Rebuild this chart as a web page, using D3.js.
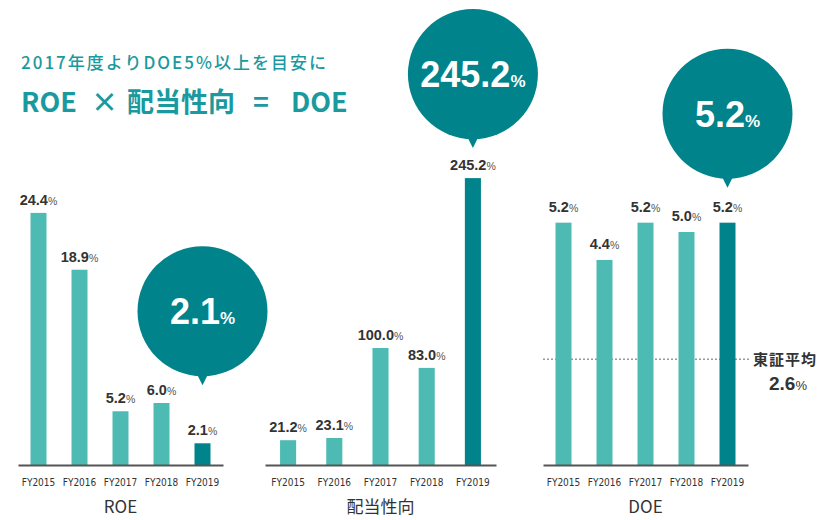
<!DOCTYPE html>
<html>
<head>
<meta charset="utf-8">
<script src="https://cdn.jsdelivr.net/npm/d3@7"></script>
<style>
  body { margin: 0; background: #fff; }
  svg { display: block; }
</style>
</head>
<body>
<div id="chart"></div>
<script>
const years = ["FY2015", "FY2016", "FY2017", "FY2018", "FY2019"];
const roeValues = [24.4, 18.9, 5.2, 6.0, 2.1];
const payoutValues = [21.2, 23.1, 100.0, 83.0, 245.2];
const doeValues = [5.2, 4.4, 5.2, 5.0, 5.2];
const panelTitles = ["ROE", "配当性向", "DOE"];
const tseAverageLabel = "2.6";
const tseLineValue = 2.27; // where the dotted line sits in the original (below its 2.6 label)

const width = 840, height = 520;
const baseY = 465;
const teal = "#1a9a9e";
const barLight = "#4dbbb3";
const barDark = "#00838b";
const textDark = "#333";

const svg = d3.select("#chart")
  .append("svg")
  .attr("width", width)
  .attr("height", height);

// header
svg.append("text")
  .attr("x", 21)
  .attr("y", 69)
  .attr("fill", teal)
  .attr("font-family", "'Noto Sans CJK JP', sans-serif")
  .attr("font-size", "17px")
  .attr("font-weight", 500)
  .attr("letter-spacing", "2px")
  .text("2017年度よりDOE5%以上を目安に");

const formula = svg.append("text")
  .attr("y", 112)
  .attr("fill", teal)
  .attr("font-family", "'Noto Sans CJK JP', sans-serif")
  .attr("font-size", "27px")
  .attr("font-weight", "bold");
[["ROE", 21], ["×", 91], ["配当性向", 127], ["=", 253], ["DOE", 291]].forEach(([t, x]) => {
  formula.append("tspan").attr("x", x).text(t);
});

const panels = [
  { values: roeValues, title: panelTitles[0], range: [18, 223], domain: [0, 25], top: 206.7, bubbleGap: 58 },
  { values: payoutValues, title: panelTitles[1], range: [265, 496], domain: [0, 250], top: 172.5, bubbleGap: 30 },
  { values: doeValues, title: panelTitles[2], range: [543, 748], domain: [0, 6], top: 185.4, bubbleGap: 35 }
];

panels.forEach((p, pi) => {
  const x = d3.scaleBand()
    .domain(years)
    .range(p.range)
    .paddingInner(0.61)
    .paddingOuter(0.305);
  if (pi === 1) x.paddingInner(0.652).paddingOuter(0.326);

  const y = d3.scaleLinear()
    .domain(p.domain)
    .range([baseY, p.top]);

  const g = svg.append("g");
  const data = years.map((yr, i) => ({ year: yr, value: p.values[i], last: i === years.length - 1 }));

  // dotted TSE average line (DOE only)
  if (pi === 2) {
    g.append("line")
      .attr("x1", p.range[0])
      .attr("x2", p.range[1] + 2)
      .attr("y1", y(tseLineValue))
      .attr("y2", y(tseLineValue))
      .attr("stroke", "#999")
      .attr("stroke-width", 1.5)
      .attr("stroke-dasharray", "2,2");
  }

  g.selectAll("rect")
    .data(data)
    .join("rect")
    .attr("x", d => x(d.year))
    .attr("y", d => y(d.value))
    .attr("width", x.bandwidth())
    .attr("height", d => baseY - y(d.value))
    .attr("fill", d => d.last ? barDark : barLight);

  // value labels
  const lbl = g.selectAll("text.val")
    .data(data)
    .join("text")
    .attr("class", "val")
    .attr("x", d => x(d.year) + x.bandwidth() / 2)
    .attr("y", d => y(d.value) - (pi === 2 ? 11 : 8))
    .attr("text-anchor", "middle")
    .attr("fill", textDark)
    .attr("font-family", "'Liberation Sans', Arial, sans-serif");
  lbl.append("tspan")
    .attr("font-size", "14.5px")
    .attr("font-weight", "bold")
    .text(d => d.value.toFixed(1));
  lbl.append("tspan")
    .attr("font-size", "10.5px")
    .attr("fill", "#555")
    .text("%");

  // axis
  const axis = g.append("g")
    .attr("transform", `translate(0,${baseY})`)
    .call(d3.axisBottom(x).tickSize(0).tickPadding(14));
  axis.select(".domain")
    .attr("stroke", "#555")
    .attr("stroke-width", 2);
  axis.selectAll(".tick text")
    .attr("fill", textDark)
    .attr("font-size", "10px")
    .attr("font-family", "'DejaVu Sans Condensed', 'Liberation Sans Narrow', 'Roboto', sans-serif");

  // panel title
  g.append("text")
    .attr("x", (p.range[0] + p.range[1]) / 2)
    .attr("y", 513)
    .attr("text-anchor", "middle")
    .attr("fill", textDark)
    .attr("font-family", "'Noto Sans CJK JP', sans-serif")
    .attr("font-size", "17px")
    .text(p.title);

  // bubble on the last bar
  const last = data[data.length - 1];
  const cx = x(last.year) + x.bandwidth() / 2;
  const tipY = y(last.value) - p.bubbleGap;
  const r = 65;
  const cy = tipY - r - 9;
  g.append("circle")
    .attr("cx", cx)
    .attr("cy", cy)
    .attr("r", r)
    .attr("fill", barDark);
  g.append("path")
    .attr("d", `M${cx - 6},${cy + r - 3} L${cx},${tipY} L${cx + 6},${cy + r - 3} Z`)
    .attr("fill", barDark);
  const big = g.append("text")
    .attr("x", cx)
    .attr("y", cy + 13)
    .attr("text-anchor", "middle")
    .attr("fill", "#fff")
    .attr("font-family", "'Liberation Sans', Arial, sans-serif")
    .attr("font-weight", "bold");
  big.append("tspan").attr("font-size", "36px").text(last.value.toFixed(1));
  big.append("tspan").attr("font-size", "17px").text("%");

  if (pi === 2) {
    g.append("text")
      .attr("x", 753)
      .attr("y", y(tseLineValue) + 6)
      .attr("fill", textDark)
      .attr("font-family", "'Noto Sans CJK JP', sans-serif")
      .attr("font-size", "15px")
      .attr("font-weight", "bold")
      .attr("letter-spacing", "1px")
      .text("東証平均");
    const avg = g.append("text")
      .attr("x", 788)
      .attr("y", y(tseLineValue) + 31)
      .attr("text-anchor", "middle")
      .attr("fill", textDark)
      .attr("font-family", "'Liberation Sans', Arial, sans-serif");
    avg.append("tspan").attr("font-size", "19px").attr("font-weight", "bold").text(tseAverageLabel);
    avg.append("tspan").attr("font-size", "13px").text("%");
  }
});
</script>
</body>
</html>
